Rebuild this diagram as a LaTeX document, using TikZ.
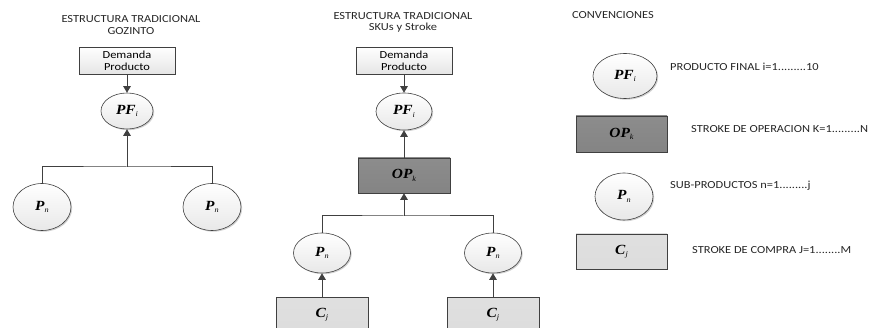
\documentclass[tikz,border=0pt]{standalone}
\usepackage{fontspec}
\setmainfont{Carlito}[FakeStretch=1.15]
\newfontfamily\symfont{Liberation Serif}[FakeStretch=1.1]
\usetikzlibrary{shapes.geometric,arrows.meta,shadows}

\definecolor{edge}{HTML}{404040}
\definecolor{opfill}{HTML}{787878}
\definecolor{cfill}{HTML}{D2D2D2}

% symbol with an italic subscript
\newcommand{\symb}[2]{{\symfont\fontsize{14}{14}\selectfont\bfseries\itshape #1}\raisebox{-0.5ex}{\symfont\fontsize{7.5}{7.5}\selectfont\itshape #2}}

\tikzset{
  txt/.style={font=\fontsize{10.8}{12}\selectfont, inner sep=0pt, text=black!85},
  softshadow/.style={drop shadow={shadow xshift=1.2pt, shadow yshift=-1.2pt, opacity=0.3, fill=black!60}},
  dembox/.style={rectangle, draw=edge, line width=0.6pt, top color=white, bottom color=black!10,
    minimum width=96pt, minimum height=27pt, inner sep=0pt, align=center,
    font=\fontsize{10.8}{12}\selectfont, softshadow},
  bubble/.style={ellipse, draw=edge, line width=0.6pt, top color=white, bottom color=black!9,
    inner sep=0pt, softshadow},
  opbox/.style={rectangle, draw=edge, line width=0.6pt, top color=opfill!85, bottom color=opfill!110!black,
    minimum width=92pt, minimum height=35pt, inner sep=0pt, softshadow},
  cbox/.style={rectangle, draw=edge, line width=0.6pt, top color=cfill!70, bottom color=cfill!105!black,
    minimum width=92pt, minimum height=35pt, inner sep=0pt, softshadow},
  conn/.style={draw=edge, line width=1pt},
  arr/.style={conn, -{Triangle[length=6.5pt,width=7.5pt]}},
}

\begin{document}
\begin{tikzpicture}[x=1pt, y=-1pt]
\useasboundingbox (0,0) rectangle (874,328);

% ---------- tree 1: Gozinto ----------
\node[txt] (t1a) at (131,19) {ESTRUCTURA TRADICIONAL};
\node[txt] (t1b) at (131,31) {GOZINTO};
\node[dembox] (dem1) at (127,60.5) {Demanda\\Producto};
\node[bubble, minimum width=52pt, minimum height=36pt] (pf1) at (127,111) {\symb{PF}{i}};
\node[bubble, minimum width=58pt, minimum height=47pt] (pn1a) at (42,207) {\symb{P}{n}};
\node[bubble, minimum width=58pt, minimum height=47pt] (pn1b) at (212,207) {\symb{P}{n}};
\coordinate (bar1) at (127,167);

\draw[arr] (dem1) -- (pf1);
\draw[conn] (pn1a.north) |- (bar1) -| (pn1b.north);
\draw[arr] (bar1) -- (pf1);

% ---------- tree 2: SKUs and strokes ----------
\node[txt] (t2a) at (403,16) {ESTRUCTURA TRADICIONAL};
\node[txt] (t2b) at (403,28) {SKUs y Stroke};
\node[dembox] (dem2) at (404,60.5) {Demanda\\Producto};
\node[bubble, minimum width=56pt, minimum height=37pt] (pf2) at (404,111.5) {\symb{PF}{i}};
\node[opbox] (op2) at (404,175.5) {\symb{OP}{k}};
\node[bubble, minimum width=57pt, minimum height=40pt] (pn2a) at (322,253) {\symb{P}{n}};
\node[bubble, minimum width=57pt, minimum height=40pt] (pn2b) at (493,253) {\symb{P}{n}};
\node[cbox] (cj2a) at (322,314.5) {\symb{C}{j}};
\node[cbox] (cj2b) at (493,314.5) {\symb{C}{j}};
\coordinate (bar2) at (404,216);

\draw[arr] (dem2) -- (pf2);
\draw[arr] (op2) -- (pf2);
\draw[conn] (pn2a.north) |- (bar2) -| (pn2b.north);
\draw[arr] (bar2) -- (op2);
\draw[arr] (cj2a) -- (pn2a);
\draw[arr] (cj2b) -- (pn2b);

% ---------- legend ----------
\node[txt, anchor=west] (conv) at (572,15) {CONVENCIONES};
\node[bubble, minimum width=64pt, minimum height=45pt] (lpf) at (625,76) {\symb{PF}{i}};
\node[txt, anchor=west] (lpft) at (670,67) {PRODUCTO FINAL i=1.........10};
\node[opbox, minimum width=91pt, minimum height=36pt] (lop) at (621.5,134) {\symb{OP}{k}};
\node[txt, anchor=west] (lopt) at (691,129) {STROKE DE OPERACION K=1.........N};
\node[bubble, minimum width=58pt, minimum height=47pt] (lpn) at (624,196.5) {\symb{P}{n}};
\node[txt, anchor=west] (lpnt) at (670,186) {SUB-PRODUCTOS n=1.........j};
\node[cbox, minimum width=91pt] (lcj) at (621.5,251.5) {\symb{C}{j}};
\node[txt, anchor=west] (lcjt) at (692,250) {STROKE DE COMPRA J=1........M};
\end{tikzpicture}
\end{document}
